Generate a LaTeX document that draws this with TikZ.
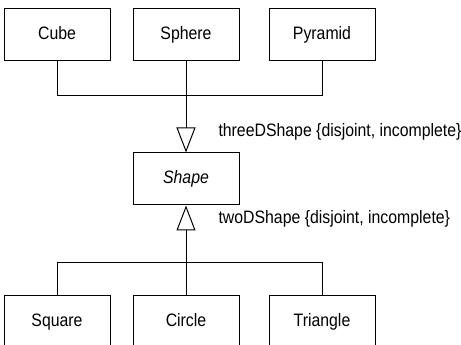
\documentclass[tikz,border=0pt]{standalone}
\usepackage{fontspec}
\setmainfont[FakeStretch=0.88]{Liberation Sans}
\usepackage{tikz}
\usetikzlibrary{arrows.meta, positioning, calc}

\begin{document}
\begin{tikzpicture}[
  x=1pt, y=1pt,
  font=\fontsize{18}{21}\selectfont,
  line width=1pt,
  cls/.style={rectangle, draw=black, fill=white, minimum width=106pt,
              minimum height=52pt, inner sep=0pt,
              text height=13pt, text depth=4pt},
  gen/.style={-{Triangle[open, length=25pt, width=19pt]}},
  lbl/.style={anchor=west, inner sep=0pt},
]
  \useasboundingbox (0,0) rectangle (461,345);

  % superclass
  \node[cls] (shape) at (186,166) {\itshape Shape};

  % 3D subclasses
  \node[cls, above=91pt of shape] (sphere) {Sphere};
  \node[cls, left=22pt of sphere] (cube) {Cube};
  \node[cls, right=29pt of sphere] (pyramid) {Pyramid};

  % 2D subclasses
  \node[cls, below=90pt of shape] (circle) {Circle};
  \node[cls, left=22pt of circle] (square) {Square};
  \node[cls, right=29pt of circle] (triangle) {Triangle};

  \coordinate (bus3) at ($(sphere.south)+(0,-34)$);
  \coordinate (bus2) at ($(circle.north)+(0,33)$);

  \draw (cube.south) |- (bus3) -| (pyramid.south);
  \draw[gen] (sphere.south) -- (shape.north);
  \draw (square.north) |- (bus2) -| (triangle.north);
  \draw[gen] (circle.north) -- (shape.south);

  \node[lbl] (lbl3) at ($(shape.north)+(32,21)$)
    {threeDShape \{disjoint, incomplete\}};
  \node[lbl] (lbl2) at ($(shape.south)+(32,-13)$)
    {twoDShape \{disjoint, incomplete\}};
\end{tikzpicture}
\end{document}
